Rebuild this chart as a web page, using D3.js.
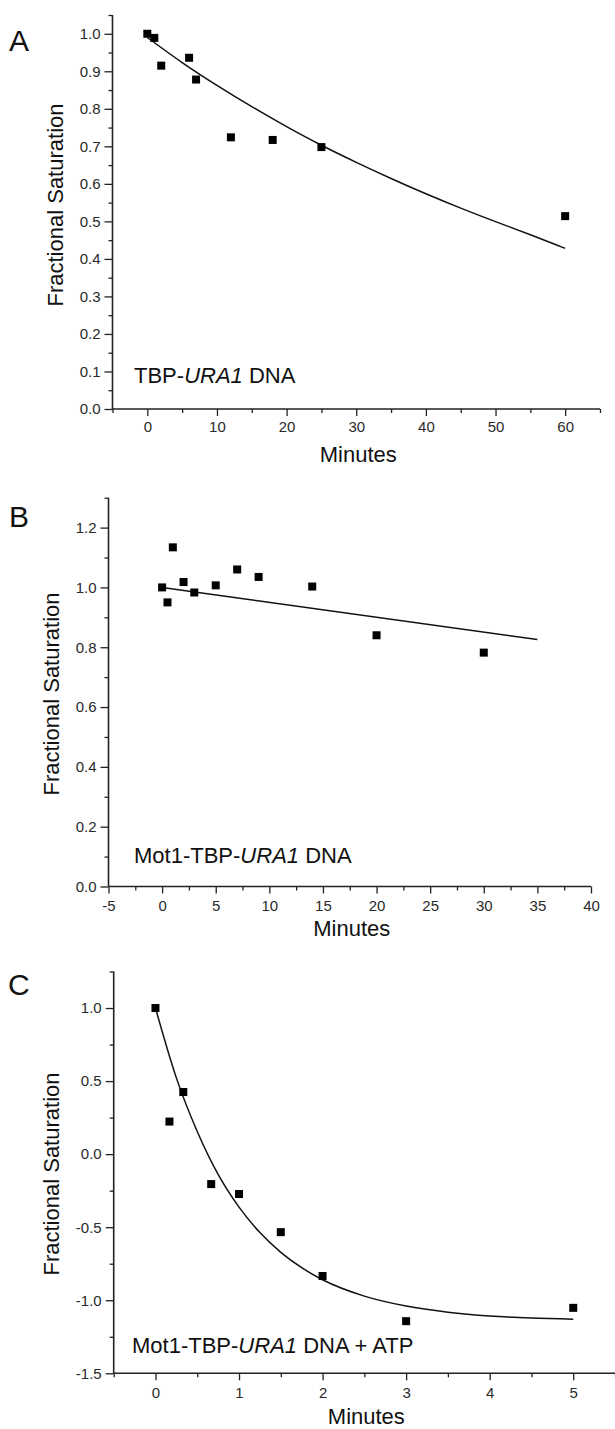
<!DOCTYPE html>
<html>
<head>
<meta charset="utf-8">
<script src="https://cdn.jsdelivr.net/npm/d3@7"></script>
<style>
  body { margin: 0; background: #fff; }
  svg { display: block; font-family: "Liberation Sans", Arial, sans-serif; }
</style>
</head>
<body>
<div id="chart"></div>
<script>
/*
*    three panels: fractional saturation vs minutes
*/

// ===== DATA =====
// A: TBP-URA1 DNA
const minutesA = [0, 1, 2, 6, 7, 12, 18, 25, 60];
const satA = [1.0, 0.989, 0.915, 0.936, 0.878, 0.724, 0.717, 0.698, 0.514];
const fitMinutesA = [0, 5, 10, 15, 20, 25, 30, 35, 40, 45, 50, 55, 60];
const fitSatA = [0.99, 0.922, 0.862, 0.805, 0.752, 0.702, 0.657, 0.614, 0.573, 0.535, 0.499, 0.465, 0.428];
const xTicksA = [0, 10, 20, 30, 40, 50, 60];
const xMinorA = [-5, 5, 15, 25, 35, 45, 55, 65];
const yTicksA = [0, 0.1, 0.2, 0.3, 0.4, 0.5, 0.6, 0.7, 0.8, 0.9, 1.0];
const yMinorA = [0.05, 0.15, 0.25, 0.35, 0.45, 0.55, 0.65, 0.75, 0.85, 0.95, 1.05];

// B: Mot1-TBP-URA1 DNA
const minutesB = [0, 0.5, 1, 2, 3, 5, 7, 9, 14, 20, 30];
const satB = [1.0, 0.95, 1.134, 1.018, 0.983, 1.007, 1.06, 1.035, 1.003, 0.84, 0.782];
const fitMinutesB = [0, 35];
const fitSatB = [1.0, 0.826];
const xTicksB = [-5, 0, 5, 10, 15, 20, 25, 30, 35, 40];
const xMinorB = [-2.5, 2.5, 7.5, 12.5, 17.5, 22.5, 27.5, 32.5, 37.5];
const yTicksB = [0, 0.2, 0.4, 0.6, 0.8, 1.0, 1.2];
const yMinorB = [0.1, 0.3, 0.5, 0.7, 0.9, 1.1, 1.3];

// C: Mot1-TBP-URA1 DNA + ATP
const minutesC = [0, 0.167, 0.333, 0.667, 1, 1.5, 2, 3, 5];
const satC = [1.0, 0.223, 0.425, -0.205, -0.273, -0.534, -0.834, -1.143, -1.052];
const fitMinutesC = [0, 0.25, 0.5, 0.75, 1, 1.25, 1.5, 1.75, 2, 2.5, 3, 3.5, 4, 4.5, 5];
const fitSatC = [1.0, 0.522, 0.155, -0.139, -0.363, -0.537, -0.672, -0.777, -0.86, -0.972, -1.04, -1.082, -1.108, -1.122, -1.13];
const xTicksC = [0, 1, 2, 3, 4, 5];
const xMinorC = [-0.5, 0.5, 1.5, 2.5, 3.5, 4.5, 5.5];
const yTicksC = [-1.5, -1.0, -0.5, 0.0, 0.5, 1.0];
const yMinorC = [-1.25, -0.75, -0.25, 0.25, 0.75, 1.25];

const width = 615;
const height = 1429;

const svg = d3.select("#chart")
    .append("svg")
    .attr("width", width)
    .attr("height", height);

svg.append("rect")
    .attr("width", width)
    .attr("height", height)
    .attr("fill", "#fff");

drawPanel({
    letter: "A", letterPos: [9, 51],
    xDomain: [-5, 65], xRange: [112.5, 600],
    yDomain: [0, 1.05], yRange: [409, 15],
    xTicks: xTicksA, xMinor: xMinorA, yTicks: yTicksA, yMinor: yMinorA,
    xPad: 6,
    xs: minutesA, ys: satA, fitX: fitMinutesA, fitY: fitSatA,
    curve: d3.curveBasis,
    ylabelPos: [63, 205], xlabelY: 462,
    note: ["TBP-", "URA1", " DNA"], notePos: [134, 383]
});

drawPanel({
    letter: "B", letterPos: [9, 527],
    xDomain: [-5, 40], xRange: [108.5, 591],
    yDomain: [0, 1.3], yRange: [886.5, 497.7],
    xTicks: xTicksB, xMinor: xMinorB, yTicks: yTicksB, yMinor: yMinorB,
    xPad: 8,
    xs: minutesB, ys: satB, fitX: fitMinutesB, fitY: fitSatB,
    curve: d3.curveLinear,
    ylabelPos: [59, 694], xlabelY: 936,
    note: ["Mot1-TBP-", "URA1", " DNA"], notePos: [134, 863]
});

drawPanel({
    letter: "C", letterPos: [8, 995],
    xDomain: [-0.5, 5.5], xRange: [113.7, 615],
    yDomain: [-1.5, 1.25], yRange: [1373.3, 971.5],
    xTicks: xTicksC, xMinor: xMinorC, yTicks: yTicksC, yMinor: yMinorC,
    xPad: 8,
    xs: minutesC, ys: satC, fitX: fitMinutesC, fitY: fitSatC,
    curve: d3.curveMonotoneX,
    ylabelPos: [59, 1174], xlabelY: 1424,
    note: ["Mot1-TBP-", "URA1", " DNA + ATP"], notePos: [132, 1353]
});

function drawPanel(p) {

    const x = d3.scaleLinear().domain(p.xDomain).range(p.xRange);
    const y = d3.scaleLinear().domain(p.yDomain).range(p.yRange);

    const g = svg.append("g");

    // minor ticks
    g.append("g")
        .attr("transform", `translate(0, ${p.yRange[0]})`)
        .call(d3.axisBottom(x).tickValues(p.xMinor).tickSize(4).tickSizeOuter(0).tickFormat(""))
        .call(a => a.select(".domain").remove());

    g.append("g")
        .attr("transform", `translate(${p.xRange[0]}, 0)`)
        .call(d3.axisLeft(y).tickValues(p.yMinor).tickSize(4).tickSizeOuter(0).tickFormat(""))
        .call(a => a.select(".domain").remove());

    // major ticks + labels
    const xAxis = g.append("g")
        .attr("transform", `translate(0, ${p.yRange[0]})`)
        .call(d3.axisBottom(x).tickValues(p.xTicks).tickSize(7).tickSizeOuter(0)
            .tickPadding(p.xPad - 1).tickFormat(d => String(d)));

    const yAxis = g.append("g")
        .attr("transform", `translate(${p.xRange[0]}, 0)`)
        .call(d3.axisLeft(y).tickValues(p.yTicks).tickSize(8).tickSizeOuter(0)
            .tickPadding(4).tickFormat(d => d.toFixed(1)));

    [xAxis, yAxis].forEach(a => {
        a.select(".domain").remove();
        a.selectAll("text")
            .style("font-size", "15px")
            .attr("fill", "#2a2a2a");
    });

    g.selectAll(".tick line")
        .attr("stroke", "#222")
        .attr("stroke-width", 1.3);

    // spines
    g.append("line")
        .attr("x1", p.xRange[0]).attr("x2", p.xRange[1])
        .attr("y1", p.yRange[0]).attr("y2", p.yRange[0])
        .attr("stroke", "#222").attr("stroke-width", 1.6);

    g.append("line")
        .attr("x1", p.xRange[0]).attr("x2", p.xRange[0])
        .attr("y1", p.yRange[0]).attr("y2", p.yRange[1])
        .attr("stroke", "#222").attr("stroke-width", 1.6);

    // fit line
    const fit = p.fitX.map((d, i) => ({ t: d, v: p.fitY[i] }));
    g.append("path")
        .datum(fit)
        .attr("fill", "none")
        .attr("stroke", "#111")
        .attr("stroke-width", 1.5)
        .attr("d", d3.line().x(d => x(d.t)).y(d => y(d.v)).curve(p.curve));

    // points
    const pts = p.xs.map((d, i) => ({ t: d, v: p.ys[i] }));
    g.selectAll(".pt")
        .data(pts)
        .enter()
        .append("rect")
        .attr("class", "pt")
        .attr("x", d => x(d.t) - 4)
        .attr("y", d => y(d.v) - 4)
        .attr("width", 8)
        .attr("height", 8)
        .attr("fill", "#000");

    // labels
    g.append("text")
        .attr("x", p.letterPos[0])
        .attr("y", p.letterPos[1])
        .style("font-size", "30px")
        .attr("fill", "#111")
        .text(p.letter);

    g.append("text")
        .attr("transform", `translate(${p.ylabelPos[0]}, ${p.ylabelPos[1]}) rotate(-90)`)
        .attr("text-anchor", "middle")
        .style("font-size", "22px")
        .attr("fill", "#111")
        .text("Fractional Saturation");

    g.append("text")
        .attr("x", (p.xRange[0] + p.xRange[1]) / 2 + 2)
        .attr("y", p.xlabelY)
        .attr("text-anchor", "middle")
        .style("font-size", "22px")
        .attr("fill", "#111")
        .text("Minutes");

    const note = g.append("text")
        .attr("x", p.notePos[0])
        .attr("y", p.notePos[1])
        .style("font-size", "22px")
        .attr("fill", "#111");

    note.append("tspan").text(p.note[0]);
    note.append("tspan").style("font-style", "italic").text(p.note[1]);
    note.append("tspan").text(p.note[2]);
}
</script>
</body>
</html>
